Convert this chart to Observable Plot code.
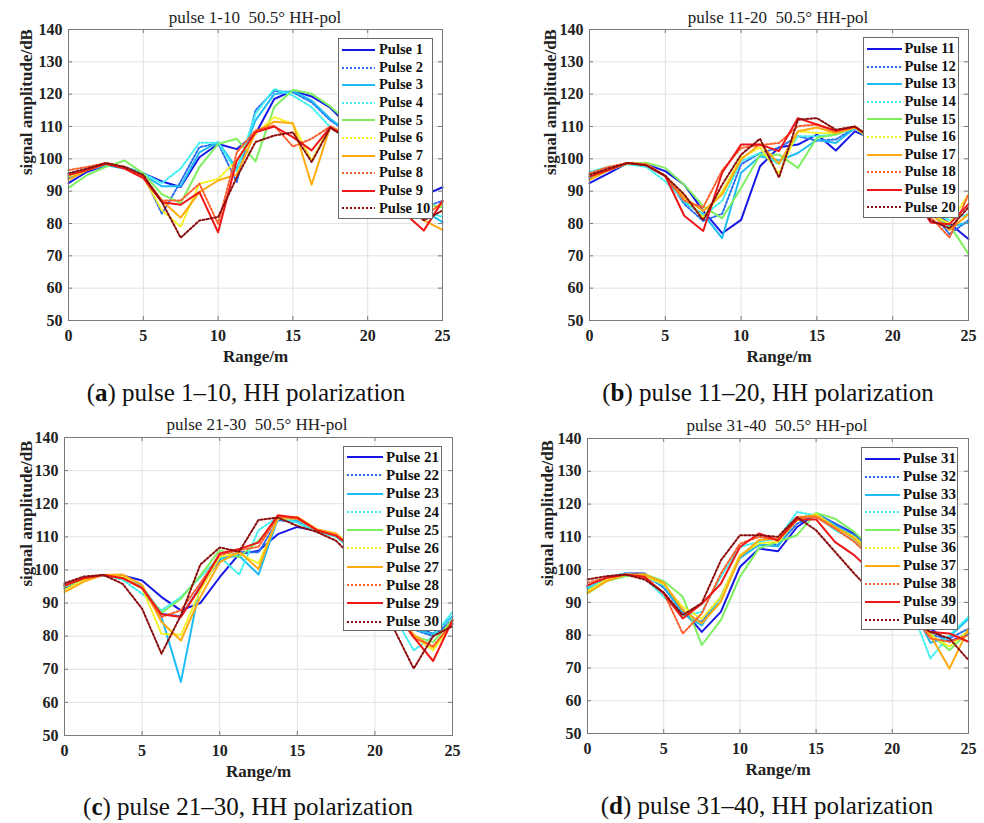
<!DOCTYPE html>
<html><head><meta charset="utf-8">
<script src="https://cdn.jsdelivr.net/npm/d3@7"></script>
<script src="https://cdn.jsdelivr.net/npm/@observablehq/plot@0.6"></script>
<style>
body{margin:0;background:#fff;}
#root{position:relative;width:984px;height:823px;overflow:hidden;font-family:"Liberation Serif","Times New Roman",serif;background:#fff;}
.panel{position:absolute;}
.title{position:absolute;font-size:17px;line-height:17px;white-space:pre;text-align:center;color:#222;}
.caption{position:absolute;font-size:25px;line-height:25px;text-align:center;color:#111;white-space:pre;}
.legend{position:absolute;background:#fff;border:1px solid #6a6a6a;box-sizing:border-box;}
.legend .row{display:flex;align-items:center;font-weight:bold;color:#111;white-space:nowrap;}
.legend svg{display:block;flex:none;}
</style></head><body><div id="root"></div>
<script>
// ---- data ----
const rangeM = [0,1.25,2.5,3.75,5,6.25,7.5,8.75,10,11.25,12.5,13.75,15,16.25,17.5,18.75,20,21.25,22.5,23.75,25];
const xTicks = [0,5,10,15,20,25];
const yTicks = [50,60,70,80,90,100,110,120,130,140];
const pulseColors = ["#1616e8","#2a6cf2","#1ebcf5","#3ef0f0","#7ef060","#f2f21e","#ffab10","#ff5f2a","#ee1616","#8b0d0d"];
const pulseDash = ["none","2,2","none","2,2","none","2,2","none","2,2","none","2,2"];

// panel (a) pulses 1-10
const p01 = [92.5,96,98,97.5,95.5,93,91.3,100.5,104.6,103,107.7,118.5,121.1,119.3,115.8,110,104,97,91,88.7,91.2];
const p02 = [94,96.5,98.3,97.5,95,83,93,103.6,104.8,92.8,115,121,120.6,117.5,111.9,108,102,95,89,85,87];
const p03 = [94.5,96.5,98,97,95,91.5,91.5,102,105.2,97,111.9,120,121,118,112.4,108,101,94,88,84,80.4];
const p04 = [95.5,97,98.3,97.5,95.5,92.5,97,105,105,96,114,121.6,119.6,116,109.8,107,100,93,87,84,82];
const p05 = [91,95,97.5,99.5,95.5,89,86.3,97.4,104.6,106.2,99.2,116,121.3,120.1,116.2,111,104,97,90,86,85];
const p06 = [94.5,96.5,98.5,97.5,94.5,84,79,92.3,93.8,99.5,107.7,112.9,110.8,99.5,110,107,100,93,87,83,86];
const p07 = [93.5,96.5,98.5,97.5,94.5,87,81.8,89.7,93.3,95.2,108.2,111.5,111,92,110,107,99,92,85,81,78];
const p08 = [96.5,97.5,98.7,97.5,94.5,87.1,87.1,92.3,79.9,102,108.8,110.3,103.8,106.2,110,107,100,93,86,82,86.5];
const p09 = [95,96.5,98.5,97,94,86.6,85.8,89.7,77.3,99.5,108.2,110,106.7,102.6,109.8,106,98,90,83,77.8,87];
const p10 = [95.5,97,98.7,97.5,95,86.6,75.6,80.9,82,94.3,105.2,107.2,108.2,99,109.6,106,99,92,85,81,84];

// panel (b) pulses 11-20
const p11 = [92.5,95.5,98.7,98.3,96.2,92,83.9,77,81.1,97.7,103.6,104.4,107.5,102.6,108.5,106,99,92,84,80,75.2];
const p12 = [94,96.5,98.5,98,94.7,86,80.8,83,98.3,101.8,103.4,107,105.6,106,109.5,106,99,91,84,76.7,81];
const p13 = [93.5,96.5,98.5,98,94.7,86.5,82.9,75.5,95.7,100.8,99.5,101.8,105.9,104.9,109.5,106,98,91,83,79,80.3];
const p14 = [96,97.5,98.3,97.5,93,87,82.4,87,99.3,101.8,98.3,107,107,107.5,109.7,106,98,91,84,81,83];
const p15 = [94.5,96.5,98.5,98.8,97.2,92,85.4,81.6,91,101.3,101.3,97.2,106.5,107.5,109.7,105,97,90,83,79.5,70.6];
const p16 = [93.5,96.5,98.7,98.3,94.7,88,81.8,90,100.3,103.5,95.4,108.5,108,108,109.7,106,98,91,83,80,89];
const p17 = [93.5,96.5,98.7,98.3,94.7,88,83.9,89,99.8,104.6,98.5,108.5,109.7,108,109.7,106,98,91,83,78,82.9];
const p18 = [95.5,97.5,98.7,98.3,94.7,87,85,96.4,103.4,104.2,104.9,110.1,110.6,108.5,110,106,98,90,82,75.7,89];
const p19 = [94.5,96.5,98.7,98,94.7,82.4,77.7,95.7,104.4,104.4,102.4,112.6,110.6,108.7,109.9,106,98,90,80.3,79.8,86];
const p20 = [95,97,98.7,98,94.7,89,81,92,101.3,106.2,94.2,112.1,112.6,109,110,106,98,90,81,78.5,85];

// panel (c) pulses 21-30
const p21 = [94.3,97.5,98.5,98.3,96.8,91.8,87.8,90,97.8,104.8,105.8,110.8,113,111.8,110.3,106,98,90,83,80.7,83.7];
const p22 = [95,97.5,98.3,97.5,95,86.8,86,95,103,105.5,105.3,115,114.5,111.8,110.3,106,98,89,82,80,85];
const p23 = [95,97,98.5,97.5,95,85.8,66.2,95.8,103.5,104.3,98.6,115.5,115,112,110.5,106,98,89,82,80.7,86];
const p24 = [95.5,97.5,98.5,97,92.8,87.8,91.8,97.8,104,98.6,112,116,114.3,111.5,110,105,96,86,75.7,80,87.3];
const p25 = [95,97.5,98.5,97.5,94.5,87,91.3,98.3,106,103.8,108.8,115.5,115.5,112,110.5,106,97,88,80,78.2,85];
const p26 = [94,97,98.5,98,94.5,80.7,80.4,93.8,104,105,102,115.5,115.5,112,110.5,106,97,88,80,75.7,84];
const p27 = [93.3,96.5,98.5,98.6,95.5,84.3,78.7,91.8,102.3,105.5,100.3,116,116,112.3,111,106,97,88,80.5,76.5,84.5];
const p28 = [95.5,97.5,98.5,97.5,94.5,85.8,87.8,96,104.5,106,107,116,115.5,112,110.5,106,97,88,79.5,77,84];
const p29 = [95.3,97.5,98.5,97.5,94.5,86.6,85.8,94.8,105,106.3,108.3,116.5,115.8,112,110.3,106,97,88,79.7,72.5,84.8];
const p30 = [96,98,98.5,95.8,88.3,74.7,86.3,101.6,106.8,105.5,115.1,115.8,113.3,111.5,108.8,103,93,82,70.2,80,83];

// panel (d) pulses 31-40
const p31 = [94.7,97.5,98.8,98.8,94.7,87.6,81,87.1,100.8,106.4,105.6,113,117,114,111,106,98,90,82,78,80.5];
const p32 = [95,97.5,98.5,98.5,94.5,87,84,91.7,104,107.5,107.5,114,117,114,110.5,105,97,89,80,79,82];
const p33 = [94,97.5,98.8,98,95,86.5,83,91.7,103.5,107.5,107.1,115.5,117,113.5,110,105,97,89,77.7,79.5,85];
const p34 = [94.5,97.5,98.8,97.5,91.7,86,87.1,97.8,106.9,108.5,109.5,117.6,116.5,112,109,104,96,88,72.9,80,85.6];
const p35 = [92.7,96.5,98,98.6,96.5,91.7,77,84.6,97.8,106.5,108.5,110.5,117.3,115.5,111.5,106,98,90,80.5,75.4,81];
const p36 = [93.5,97,98.5,98,95.5,88.6,85,91.7,104.5,108,108.5,115,117,113,110,105,97,89,80,76.5,81.5];
const p37 = [92.9,96.5,98.5,98.5,96,87.6,83.6,90.2,103.9,109,109.5,116,116.5,113,109.5,104,96,88,80,69.8,82];
const p38 = [96,97.5,98.5,97.5,93,80.5,86.6,98.8,107.9,110,109,116,116,112.5,108.5,103,95,87,79,78,80];
const p39 = [95.2,97.5,98.5,97.8,92.7,85.1,89.6,95.7,106.9,111,108.9,115.3,115.3,108.4,104.4,99,92,86,81,80.5,78];
const p40 = [97,98,98.5,97,93,86.1,89.8,102.8,110.5,110.5,110,116,112,105.4,98.8,92.7,88,84,81,79,72.4];

const panelTitles = ["pulse 1-10  50.5° HH-pol","pulse 11-20  50.5° HH-pol","pulse 21-30  50.5° HH-pol","pulse 31-40  50.5° HH-pol"];
const panelLetters = ["a","b","c","d"];
const panelCaptions = [" pulse 1–10, HH polarization"," pulse 11–20, HH polarization"," pulse 21–30, HH polarization"," pulse 31–40, HH polarization"];
const yLabel = "signal amplitude/dB";
const xLabel = "Range/m";

const panelSeries = [
  [p01,p02,p03,p04,p05,p06,p07,p08,p09,p10],
  [p11,p12,p13,p14,p15,p16,p17,p18,p19,p20],
  [p21,p22,p23,p24,p25,p26,p27,p28,p29,p30],
  [p31,p32,p33,p34,p35,p36,p37,p38,p39,p40]
];

// ---- layout (page pixels) ----
const layouts = [
  {left:0, top:0, width:480, height:370, ml:68, mr:38, mt:29, mb:50, ylx:19,
   title:{cx:255, top:8.8}, cap:{cx:246, top:380},
   leg:{l:338, t:38, w:95, h:181, pad:2.2, row:17.6, line:33, gap:4, fs:14.5}},
  {left:492, top:0, width:492, height:370, ml:97, mr:16, mt:29, mb:50, ylx:51,
   title:{cx:778, top:8.8}, cap:{cx:768, top:380},
   leg:{l:863, t:37, w:96, h:181, pad:2.2, row:17.6, line:35, gap:2.5, fs:14.5}},
  {left:0, top:410, width:490, height:370, ml:64, mr:38, mt:27, mb:45, ylx:19,
   title:{cx:257, top:415.5}, cap:{cx:248, top:794},
   leg:{l:343, t:446, w:99, h:185, pad:0.8, row:18.3, line:36, gap:3, fs:15}},
  {left:492, top:410, width:492, height:370, ml:95, mr:16, mt:28, mb:47, ylx:48,
   title:{cx:777, top:416.5}, cap:{cx:767, top:792.5},
   leg:{l:861, t:447, w:97, h:183, pad:1.8, row:17.9, line:35, gap:3, fs:15}}
];

const root = document.getElementById("root");
const frameColor = "#7a7a7a";
const gridColor = "#e2e2e2";
const serif = '"Liberation Serif", "Times New Roman", serif';

layouts.forEach((L, p) => {
  const pw = L.width - L.ml - L.mr, ph = L.height - L.mt - L.mb;
  const series = panelSeries[p].map((vals, i) => ({
    name: "Pulse " + (p * 10 + i + 1), values: vals, color: pulseColors[i], dash: pulseDash[i]
  }));
  const chart = Plot.plot({
    width: L.width, height: L.height,
    marginLeft: L.ml, marginRight: L.mr, marginTop: L.mt, marginBottom: L.mb,
    style: {fontFamily: serif, background: "transparent", overflow: "visible"},
    x: {domain: [0, 25]},
    y: {domain: [50, 140]},
    marks: [
      Plot.gridX(xTicks, {stroke: gridColor, strokeOpacity: 1}),
      Plot.gridY(yTicks, {stroke: gridColor, strokeOpacity: 1}),
      ...series.map(s => Plot.line(s.values, {
        x: (d, i) => rangeM[i], y: d => d,
        stroke: s.color, strokeWidth: 2, strokeDasharray: s.dash === "none" ? undefined : s.dash
      })),
      Plot.frame({stroke: frameColor}),
      Plot.ruleX(xTicks.slice(1, -1), {stroke: frameColor, insetTop: ph - 4}),
      Plot.ruleX(xTicks.slice(1, -1), {stroke: frameColor, insetBottom: ph - 4}),
      Plot.ruleY(yTicks.slice(1, -1), {stroke: frameColor, insetRight: pw - 4}),
      Plot.ruleY(yTicks.slice(1, -1), {stroke: frameColor, insetLeft: pw - 4}),
      Plot.axisX(xTicks, {tickSize: 0, tickPadding: 9, label: null, fontSize: 16, fontWeight: "bold", fill: "#222", fontFamily: serif}),
      Plot.axisY(yTicks, {tickSize: 0, tickPadding: 6, label: null, fontSize: 16, fontWeight: "bold", fill: "#222", fontFamily: serif}),
      Plot.text([xLabel], {frameAnchor: "bottom", dy: 36, lineAnchor: "middle", fontSize: 17, fontWeight: "bold", fill: "#222", fontFamily: serif}),
      Plot.text([yLabel], {frameAnchor: "left", dx: -(L.ml - L.ylx), rotate: -90, lineAnchor: "top", fontSize: 17, fontWeight: "bold", fill: "#222", fontFamily: serif})
    ]
  });
  chart.classList.add("panel");
  chart.style.left = L.left + "px";
  chart.style.top = L.top + "px";
  root.appendChild(chart);

  const t = document.createElement("div");
  t.className = "title";
  t.textContent = panelTitles[p];
  t.style.width = "300px";
  t.style.left = (L.title.cx - 150) + "px";
  t.style.top = L.title.top + "px";
  root.appendChild(t);

  const c = document.createElement("div");
  c.className = "caption";
  c.innerHTML = "(<b>" + panelLetters[p] + "</b>)" + panelCaptions[p];
  c.style.width = "480px";
  c.style.left = (L.cap.cx - 240) + "px";
  c.style.top = L.cap.top + "px";
  root.appendChild(c);

  const g = L.leg;
  const leg = document.createElement("div");
  leg.className = "legend";
  leg.style.left = g.l + "px";
  leg.style.top = g.t + "px";
  leg.style.width = g.w + "px";
  leg.style.height = g.h + "px";
  leg.style.paddingTop = g.pad + "px";
  leg.style.paddingLeft = "3px";
  series.forEach(s => {
    const row = document.createElement("div");
    row.className = "row";
    row.style.height = g.row + "px";
    row.style.fontSize = g.fs + "px";
    row.style.lineHeight = g.row + "px";
    const dashAttr = s.dash === "none" ? "" : ` stroke-dasharray="${s.dash}"`;
    row.innerHTML = `<svg width="${g.line}" height="6"><line x1="0" x2="${g.line}" y1="3" y2="3" stroke="${s.color}" stroke-width="2"${dashAttr}/></svg><span style="margin-left:${g.gap}px">${s.name}</span>`;
    leg.appendChild(row);
  });
  root.appendChild(leg);
});
</script>
</body></html>
